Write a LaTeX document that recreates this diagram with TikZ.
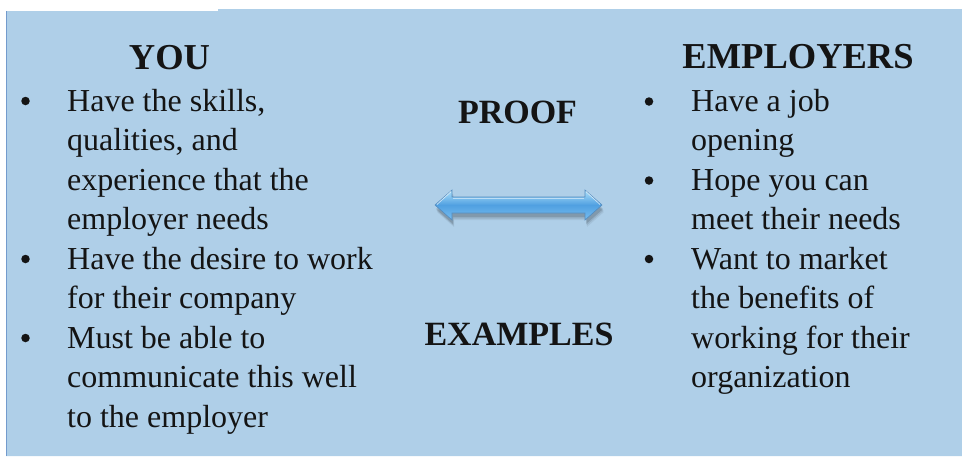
\documentclass[tikz,border=0pt]{standalone}
\usepackage{fontspec}
\setmainfont{Liberation Serif}
\definecolor{bg}{RGB}{175,207,232}
\definecolor{edgeblue}{RGB}{115,155,205}
\definecolor{arrtop}{RGB}{175,225,250}
\definecolor{arrmid}{RGB}{80,160,225}
\definecolor{arrbot}{RGB}{120,190,240}
\definecolor{arredge}{RGB}{85,140,190}
\tikzset{
  txt/.style={anchor=base west, inner sep=0pt, text=black!92, font=\fontsize{32}{36}\selectfont},
  head/.style={anchor=base, inner sep=0pt, text=black!92, font=\fontsize{36.5}{42}\selectfont\bfseries},
  midhead/.style={anchor=base, inner sep=0pt, text=black!92, font=\fontsize{34}{40}\selectfont\bfseries},
  dot/.style={circle, fill=black!92, inner sep=0pt, minimum size=8.5pt},
  arrowbody/.style={draw=arredge, line width=0.6pt, line join=miter,
    top color=arrtop, bottom color=arrbot, middle color=arrmid},
  arrowshadow/.style={fill=black, opacity=#1, draw=none}
}
\newcommand{\arrowpath}{(435,205) -- (452,190) -- (452,197) -- (585,197) -- (585,190) -- (602,205) -- (585,220) -- (585,213) -- (452,213) -- (452,220) -- cycle}
\begin{document}
\begin{tikzpicture}[x=1pt,y=-1pt]
\useasboundingbox (0,0) rectangle (962,456);
\fill[bg] (6,11) -- (218,11) -- (218,9) -- (962,9) -- (962,456) -- (6,456) -- cycle;
\draw[edgeblue, line width=1pt] (6,11) -- (6,456);

% headings
\node[head] (you) at (169.5,69) {YOU};
\node[head] (emp) at (798,68) {EMPLOYERS};
\node[midhead] (proof) at (517.5,123) {PROOF};
\node[midhead] (examples) at (519,345) {EXAMPLES};

% arrow with soft shadow
\begin{scope}[shift={(2,7)}]
  \path[arrowshadow=0.06] \arrowpath;
\end{scope}
\begin{scope}[shift={(1.5,5.5)}]
  \path[arrowshadow=0.09] \arrowpath;
\end{scope}
\begin{scope}[shift={(1,4)}]
  \path[arrowshadow=0.13] \arrowpath;
\end{scope}
\path[arrowbody] \arrowpath;
\draw[white, opacity=0.6, line width=0.8pt] (437,204.5) -- (451,191.5);
\draw[white, opacity=0.6, line width=0.8pt] (586,191.5) -- (600,204.5);
\draw[white, opacity=0.5, line width=1pt] (453,198.5) -- (584,198.5);

% left column
\node[dot] (lb1) at (25.5,101) {};
\node[dot] (lb2) at (25.5,259) {};
\node[dot] (lb3) at (25.5,338) {};
\node[txt] (l1) at (67,111) {Have the skills,};
\node[txt] (l2) at (67,150.5) {qualities, and};
\node[txt] (l3) at (67,190) {experience that the};
\node[txt] (l4) at (67,229.5) {employer needs};
\node[txt] (l5) at (67,269) {Have the desire to work};
\node[txt] (l6) at (67,308.5) {for their company};
\node[txt] (l7) at (67,348) {Must be able to};
\node[txt] (l8) at (67,387.5) {communicate this well};
\node[txt] (l9) at (67,427) {to the employer};

% right column
\node[dot] (rb1) at (649,101.5) {};
\node[dot] (rb2) at (649,180.5) {};
\node[dot] (rb3) at (649,259) {};
\node[txt] (r1) at (691,111) {Have a job};
\node[txt] (r2) at (691,150.5) {opening};
\node[txt] (r3) at (691,190) {Hope you can};
\node[txt] (r4) at (691,229.5) {meet their needs};
\node[txt] (r5) at (691,269) {Want to market};
\node[txt] (r6) at (691,308.5) {the benefits of};
\node[txt] (r7) at (691,348) {working for their};
\node[txt] (r8) at (691,387.5) {organization};
\end{tikzpicture}
\end{document}
